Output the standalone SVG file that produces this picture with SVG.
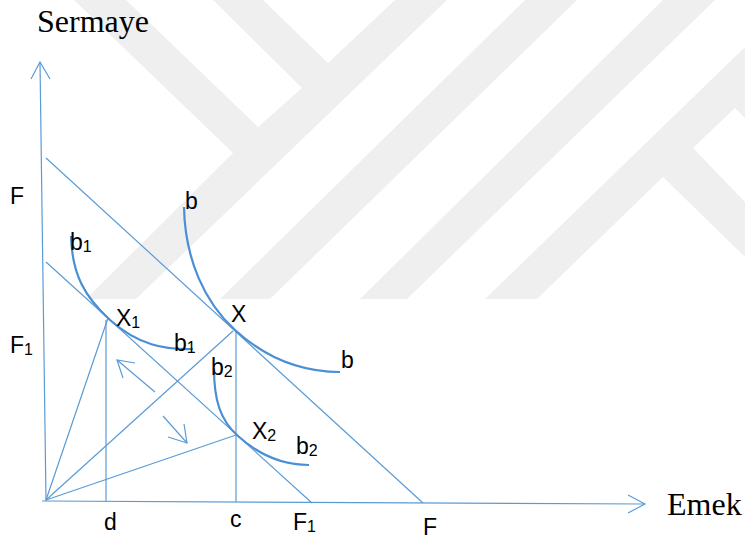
<svg xmlns="http://www.w3.org/2000/svg" width="745" height="539" viewBox="0 0 745 539">
<style>
.wm{fill:#efefef;stroke:none}
.ln{fill:none;stroke:#5b9bd5;stroke-width:1.2}
.cv{fill:none;stroke:#4a8fd4;stroke-width:2.2}
.lb{font-family:"Liberation Sans",Arial,sans-serif;font-size:23px;fill:#000}
.sb{font-size:16px}
.ax{font-family:"Liberation Serif","Times New Roman",serif;font-size:32px;fill:#000}
</style>
<rect width="745" height="539" fill="#fff"/>
<g id="watermark">
<polygon class="wm" points="74,0 126,0 258,127 302,88 213,0 263,0 328,63 395,0 447,0 136,299 86,299 233,153"/>
<polygon class="wm" points="525,0 577,0 270,299 220,299"/>
<polygon class="wm" points="663,0 715,0 407,299 360,299"/>
<polygon class="wm" points="485,299 745,47 745,118 735,108 693,148 745,202 745,257 663,177 537,299"/>
</g>
<g id="axes">
<line class="ln" x1="46" y1="501" x2="40" y2="62"/>
<polyline class="ln" points="31,79 40,62 50,79"/>
<line class="ln" x1="42" y1="501" x2="645" y2="504"/>
<polyline class="ln" points="628,495 645,504 628,513"/>
</g>
<g id="connectors">
<line class="ln" x1="46" y1="158" x2="423" y2="503"/>
<line class="ln" x1="46" y1="262" x2="312" y2="503"/>
<line class="ln" x1="106" y1="320" x2="106" y2="501"/>
<line class="ln" x1="236" y1="331" x2="236" y2="502"/>
<line class="ln" x1="46" y1="500" x2="108" y2="318"/>
<line class="ln" x1="46" y1="500" x2="233" y2="331"/>
<line class="ln" x1="46" y1="500" x2="236" y2="435"/>
<line class="ln" x1="155" y1="392" x2="117" y2="360"/>
<polyline class="ln" points="123,378 117,360 135,363"/>
<line class="ln" x1="163" y1="416" x2="187" y2="443"/>
<polyline class="ln" points="184,424 187,443 168,437"/>
</g>
<g id="curves">
<path id="curve-b" class="cv" d="M184,207 C185,260 205,302.5 235,330 C270,362 305,372 340,372"/>
<path id="curve-b1" class="cv" d="M71,236 C72,275 85,297 110,320 C138,345 165,350 193,349"/>
<path id="curve-b2" class="cv" d="M214,368 C214,400 220,420 238,436 C260,456 285,465 309,465"/>
</g>
<g id="labels">
<text class="ax" x="37" y="32">Sermaye</text>
<text class="ax" x="667" y="515">Emek</text>
<text class="lb" x="10" y="204">F</text>
<text class="lb" x="10" y="353">F<tspan class="sb" dy="2">1</tspan></text>
<text class="lb" x="185" y="209">b</text>
<text class="lb" x="70" y="250">b<tspan class="sb" dy="2">1</tspan></text>
<text class="lb" x="116" y="326">X<tspan class="sb" dy="2">1</tspan></text>
<text class="lb" x="174" y="351">b<tspan class="sb" dy="2">1</tspan></text>
<text class="lb" x="231" y="322">X</text>
<text class="lb" x="341" y="368">b</text>
<text class="lb" x="211" y="375">b<tspan class="sb" dy="2">2</tspan></text>
<text class="lb" x="252" y="439">X<tspan class="sb" dy="2">2</tspan></text>
<text class="lb" x="296" y="454">b<tspan class="sb" dy="2">2</tspan></text>
<text class="lb" x="104" y="530">d</text>
<text class="lb" x="230" y="527">c</text>
<text class="lb" x="293" y="530">F<tspan class="sb" dy="2">1</tspan></text>
<text class="lb" x="423" y="535">F</text>
</g>
</svg>
